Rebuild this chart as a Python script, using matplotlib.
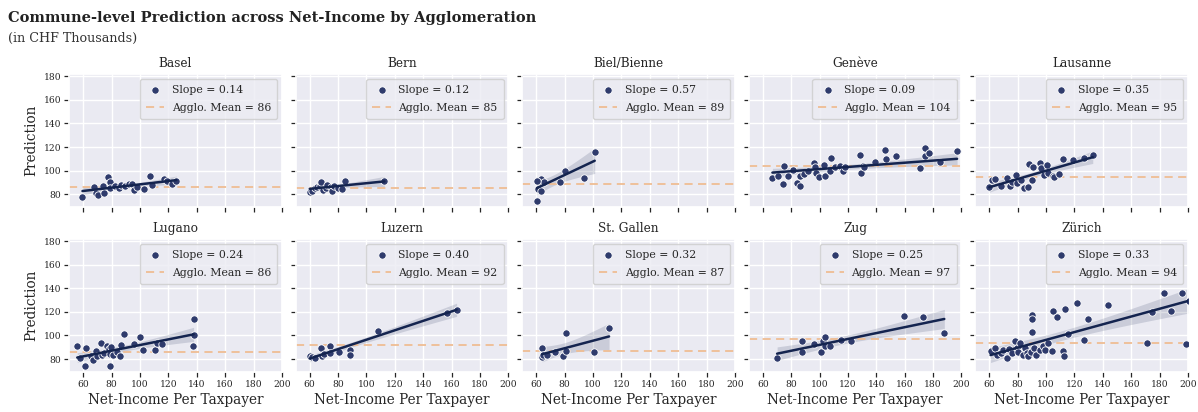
import numpy as np
import matplotlib
matplotlib.use("Agg")
import matplotlib.pyplot as plt
import seaborn as sns

# Agglomerations in panel order
agglos = ["Basel", "Bern", "Biel/Bienne", "Genève", "Lausanne",
          "Lugano", "Luzern", "St. Gallen", "Zug", "Zürich"]

# Net income per taxpayer (CHF thousands) and predicted value per commune
basel_x = [59.5, 67.5, 68.7, 70.5, 73.8, 74.5, 77.6, 78.7, 79.2, 82.7, 85.1, 86.7,
           89.7, 92.1, 94.4, 95.6, 97.9, 103.1, 107.3, 108.5, 117.1, 119.0, 122.5, 125.6]
basel_y = [78.0, 86.5, 80.8, 79.4, 87.0, 80.8, 94.9, 90.7, 85.1, 87.0, 85.1, 87.9,
           87.0, 88.4, 88.7, 83.7, 86.5, 84.2, 95.4, 87.9, 93.2, 91.2, 88.7, 91.0]

bern_x = [60.0, 61.9, 63.8, 65.4, 67.3, 68.3, 69.7, 71.3, 72.5, 74.9, 76.0, 77.2,
          79.6, 82.6, 85.0, 112.6]
bern_y = [82.2, 83.1, 85.1, 86.5, 87.0, 90.4, 83.7, 85.1, 87.9, 86.5, 83.1, 87.0,
          85.1, 84.2, 91.5, 91.5]

biel_x = [60.7, 61.2, 61.9, 63.1, 63.5, 65.2, 60.5, 76.5, 80.0, 93.7, 101.2]
biel_y = [73.8, 84.2, 91.5, 92.6, 83.1, 90.7, 91.5, 90.1, 99.7, 93.5, 116.0]

geneve_x = [66.8, 70.6, 74.6, 75.3, 78.1, 81.2, 84.0, 85.9, 86.4, 88.7, 91.8, 95.8,
            96.9, 97.6, 99.3, 102.8, 103.5, 107.1, 108.2, 111.1, 114.6, 116.2, 118.1,
            128.7, 129.4, 130.4, 131.1, 139.3, 146.4, 147.1, 154.1, 170.6, 174.1,
            174.1, 176.9, 185.2, 196.9]
geneve_y = [94.0, 95.7, 88.7, 103.9, 95.4, 100.5, 89.8, 87.3, 95.7, 97.1, 99.4, 106.1,
            103.3, 97.7, 94.9, 104.7, 95.4, 99.7, 110.3, 102.8, 103.9, 99.7, 103.3,
            113.1, 97.7, 103.9, 102.8, 107.5, 117.4, 109.5, 112.3, 102.5, 118.8,
            112.3, 114.6, 107.5, 116.8]

lausanne_x = [60.0, 61.6, 64.0, 68.0, 72.2, 74.6, 75.8, 78.8, 79.3, 82.4, 84.7, 87.1,
              88.2, 89.9, 91.1, 95.8, 96.5, 98.6, 100.9, 101.6, 105.2, 105.9, 109.4,
              112.2, 119.3, 126.4, 132.9]
lausanne_y = [85.9, 92.1, 92.6, 87.0, 93.5, 87.0, 90.7, 96.3, 89.3, 92.1, 85.1, 85.9,
              105.6, 92.1, 102.8, 106.7, 101.9, 96.3, 104.7, 97.7, 95.4, 94.3, 96.9,
              110.1, 108.9, 110.3, 113.1]

lugano_x = [55.8, 57.7, 61.6, 62.3, 65.2, 67.0, 68.7, 69.8, 72.2, 73.3, 75.0, 76.9,
            78.0, 78.7, 79.2, 79.9, 81.1, 83.9, 86.2, 86.7, 88.6, 95.6, 100.3, 102.2,
            110.8, 112.0, 115.5, 137.8, 137.8, 137.3]
lugano_y = [90.7, 80.8, 73.8, 89.3, 82.8, 78.9, 86.5, 82.2, 93.5, 83.7, 85.1, 91.2,
            88.4, 84.5, 73.8, 90.1, 83.7, 85.6, 82.2, 91.8, 101.3, 92.9, 98.3, 87.9,
            87.9, 94.0, 92.9, 114.3, 100.5, 91.2]

luzern_x = [60.0, 61.6, 64.0, 68.0, 68.7, 69.9, 74.1, 74.6, 80.5, 88.2, 88.7, 108.0,
            156.9, 163.5]
luzern_y = [82.8, 81.7, 80.8, 89.3, 82.8, 84.5, 91.2, 85.1, 85.6, 87.9, 83.7, 104.2,
            119.3, 121.6]

stgallen_x = [64.2, 64.2, 64.7, 67.8, 73.2, 79.1, 80.7, 81.2, 100.7, 111.3]
stgallen_y = [89.3, 81.7, 83.7, 83.7, 85.6, 82.8, 102.5, 86.5, 85.6, 106.1]

zug_x = [70.1, 87.7, 87.7, 95.9, 101.3, 102.3, 103.7, 104.1, 107.7, 115.4, 122.2,
         159.3, 172.7, 187.9]
zug_y = [80.8, 95.7, 85.9, 92.6, 86.2, 94.9, 98.5, 91.2, 91.2, 96.3, 95.4,
         116.8, 115.4, 101.9]

zurich_x = [60.9, 64.0, 65.6, 68.0, 69.4, 72.2, 74.1, 75.8, 78.1, 79.3, 80.5, 81.6,
            83.5, 85.2, 86.4, 87.5, 89.4, 89.9, 89.9, 90.4, 91.5, 92.9, 95.8, 98.1,
            99.3, 101.6, 104.0, 104.7, 107.5, 112.2, 112.9, 113.4, 115.8, 122.1,
            126.4, 129.4, 143.3, 171.1, 174.6, 183.3, 188.0, 195.8, 198.8, 200.5]
zurich_y = [86.5, 89.3, 83.7, 85.1, 87.3, 80.8, 88.4, 85.1, 95.4, 89.3, 85.6, 94.0,
            83.7, 89.3, 85.1, 82.2, 85.6, 117.4, 113.7, 103.3, 89.3, 83.7, 87.3, 91.2,
            87.9, 93.5, 87.0, 120.7, 116.0, 87.0, 82.8, 122.1, 101.1, 127.2,
            96.3, 114.3, 125.8, 93.5, 120.2, 136.2, 121.0, 136.2, 92.6, 129.4]

income = [basel_x, bern_x, biel_x, geneve_x, lausanne_x,
          lugano_x, luzern_x, stgallen_x, zug_x, zurich_x]
prediction = [basel_y, bern_y, biel_y, geneve_y, lausanne_y,
              lugano_y, luzern_y, stgallen_y, zug_y, zurich_y]

# Fitted slope and agglomeration mean shown in each legend
slopes = [0.14, 0.12, 0.57, 0.09, 0.35, 0.24, 0.40, 0.32, 0.25, 0.33]
agglo_means = [86, 85, 89, 104, 95, 86, 92, 87, 97, 94]

x_ticks = [60, 80, 100, 120, 140, 160, 180, 200]
y_ticks = [80, 100, 120, 140, 160, 180]

sns.set_theme(style="darkgrid", rc={
    "xtick.bottom": True, "ytick.left": True,
    "xtick.major.size": 3.5, "ytick.major.size": 3.5,
    "xtick.major.width": 0.9, "ytick.major.width": 0.9,
    "xtick.color": ".15", "ytick.color": ".15",
})
plt.rcParams["font.family"] = ["DejaVu Serif"]

POINT = "#2f3b6c"
LINE = "#14244f"
MEAN = "#efbd93"

fig, axes = plt.subplots(2, 5, figsize=(11.98, 4.12), dpi=100,
                         sharex=True, sharey=True)
fig.subplots_adjust(left=69 / 1198, right=1188 / 1198,
                    top=1 - 74 / 412, bottom=1 - 372 / 412,
                    wspace=0.064, hspace=0.238)

for i, ax in enumerate(axes.flat):
    x = np.asarray(income[i], dtype=float)
    y = np.asarray(prediction[i], dtype=float)
    b = slopes[i]
    a = y.mean() - b * x.mean()

    # regression line over the data range with a 95% band for the mean
    xs = np.linspace(x.min(), x.max(), 100)
    ys = a + b * xs
    n = len(x)
    resid = y - (a + b * x)
    s = np.sqrt(np.sum(resid ** 2) / max(n - 2, 1))
    sxx = np.sum((x - x.mean()) ** 2)
    half = 2.1 * s * np.sqrt(1.0 / n + (xs - x.mean()) ** 2 / sxx)
    ax.fill_between(xs, ys - half, ys + half, color=LINE, alpha=0.15,
                    linewidth=0, zorder=2)

    ax.scatter(x, y, s=28, color=POINT, edgecolor="white", linewidth=0.6,
               zorder=3, label=f"Slope = {b:.2f}")
    ax.plot(xs, ys, color=LINE, lw=1.8, zorder=4)
    ax.axhline(agglo_means[i], color=MEAN, ls=(0, (4.5, 3)), lw=1.3, zorder=2.5,
               label=f"Agglo. Mean = {agglo_means[i]}")

    ax.set_title(agglos[i], fontsize=8.7, color=".15", pad=5)
    ax.set_xlim(50, 200)
    ax.set_ylim(69, 182)
    ax.set_xticks(x_ticks)
    ax.set_yticks(y_ticks)
    ax.tick_params(labelsize=6.6, pad=2)
    leg = ax.legend(loc="upper right", fontsize=7.8, frameon=True,
                    borderpad=0.55, labelspacing=0.75, handlelength=1.7,
                    handletextpad=0.7, borderaxespad=0.45)
    leg.get_frame().set_edgecolor("#cccccc")
    leg.get_frame().set_facecolor("#ececf3")

    if i % 5 == 0:
        ax.set_ylabel("Prediction", fontsize=9.8, color=".15")
    if i >= 5:
        ax.set_xlabel("Net-Income Per Taxpayer", fontsize=9.8, color=".15", labelpad=3)

fig.text(8 / 1198, 1 - 18 / 412,
         "Commune-level Prediction across Net-Income by Agglomeration",
         fontsize=10.5, fontweight="bold", color="#222222", va="center", ha="left")
fig.text(8 / 1198, 1 - 38 / 412, "(in CHF Thousands)",
         fontsize=9.2, color="#333333", va="center", ha="left")

fig.savefig("out.png", dpi=100)
